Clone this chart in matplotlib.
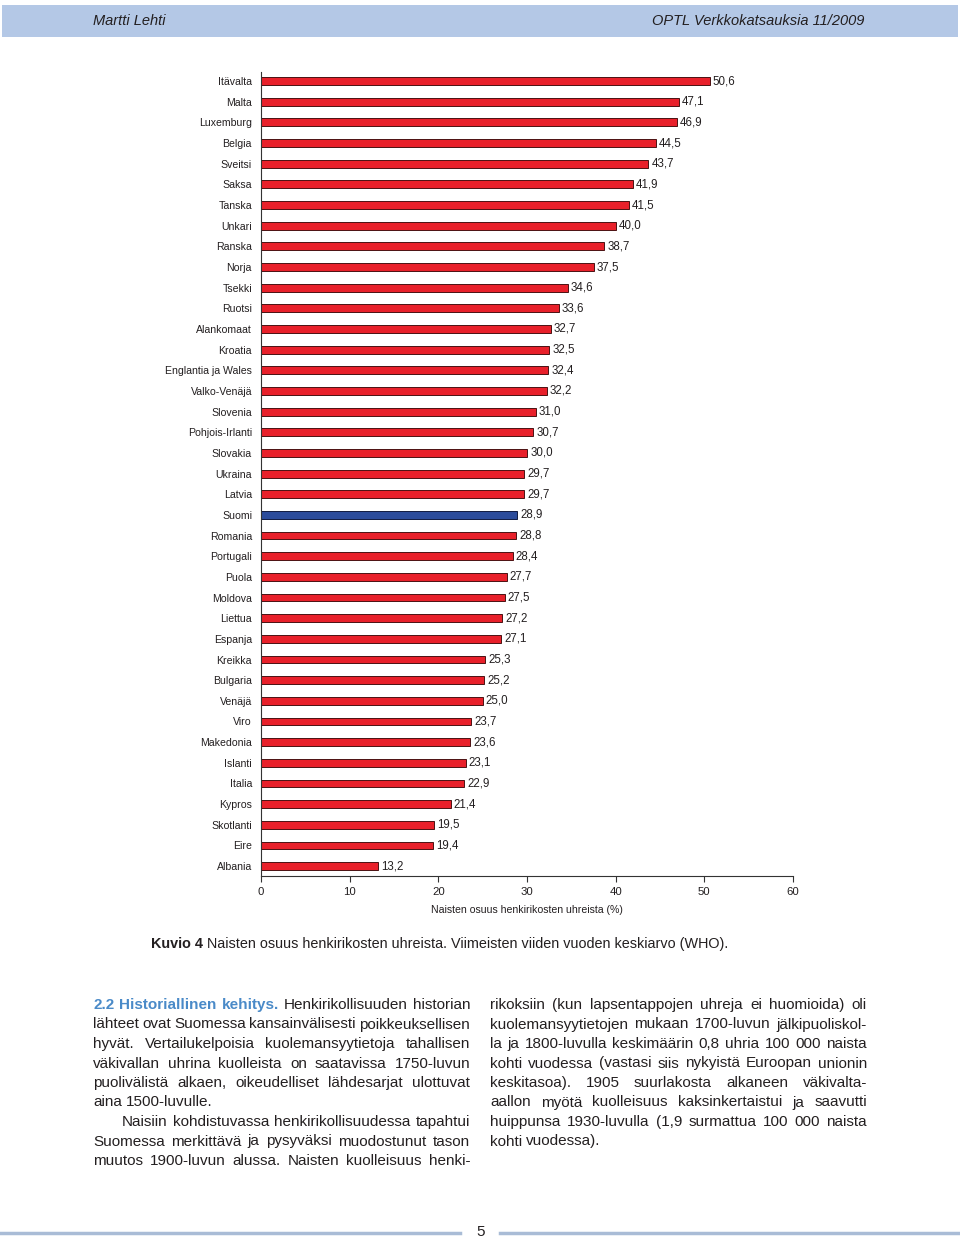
"""Naisten osuus henkirikosten uhreista - page recreation."""
import matplotlib
matplotlib.use("Agg")
import matplotlib.pyplot as plt
from matplotlib.lines import Line2D
from matplotlib.patches import Rectangle

W, H = 960, 1239

countries = ["Itävalta", "Malta", "Luxemburg", "Belgia", "Sveitsi", "Saksa",
             "Tanska", "Unkari", "Ranska", "Norja", "Tsekki", "Ruotsi",
             "Alankomaat", "Kroatia", "Englantia ja Wales", "Valko-Venäjä",
             "Slovenia", "Pohjois-Irlanti", "Slovakia", "Ukraina", "Latvia",
             "Suomi", "Romania", "Portugali", "Puola", "Moldova", "Liettua",
             "Espanja", "Kreikka", "Bulgaria", "Venäjä", "Viro", "Makedonia",
             "Islanti", "Italia", "Kypros", "Skotlanti", "Eire", "Albania"]
shares = [50.6, 47.1, 46.9, 44.5, 43.7, 41.9, 41.5, 40.0, 38.7, 37.5, 34.6,
          33.6, 32.7, 32.5, 32.4, 32.2, 31.0, 30.7, 30.0, 29.7, 29.7, 28.9,
          28.8, 28.4, 27.7, 27.5, 27.2, 27.1, 25.3, 25.2, 25.0, 23.7, 23.6,
          23.1, 22.9, 21.4, 19.5, 19.4, 13.2]
highlight = "Suomi"
xticks = [0, 10, 20, 30, 40, 50, 60]
xlabel = "Naisten osuus henkirikosten uhreista (%)"

header_left = "Martti Lehti"
header_right = "OPTL Verkkokatsauksia 11/2009"
caption_bold = "Kuvio 4"
caption_rest = "Naisten osuus henkirikosten uhreista. Viimeisten viiden vuoden keskiarvo (WHO)."
page_number = "5"

heading = "2.2 Historiallinen kehitys."
# (text, justified, indented)
left_lines = [
    ("Henkirikollisuuden historian", True, False),
    ("lähteet ovat Suomessa kansainvälisesti poikkeuksellisen", True, False),
    ("hyvät. Vertailukelpoisia kuolemansyytietoja tahallisen", True, False),
    ("väkivallan uhrina kuolleista on saatavissa 1750-luvun", True, False),
    ("puolivälistä alkaen, oikeudelliset lähdesarjat ulottuvat", True, False),
    ("aina 1500-luvulle.", False, False),
    ("Naisiin kohdistuvassa henkirikollisuudessa tapahtui", True, True),
    ("Suomessa merkittävä ja pysyväksi muodostunut tason", True, False),
    ("muutos 1900-luvun alussa. Naisten kuolleisuus henki-", True, False),
]
right_lines = [
    ("rikoksiin (kun lapsentappojen uhreja ei huomioida) oli", True, False),
    ("kuolemansyytietojen mukaan 1700-luvun jälkipuoliskol-", True, False),
    ("la ja 1800-luvulla keskimäärin 0,8 uhria 100 000 naista", True, False),
    ("kohti vuodessa (vastasi siis nykyistä Euroopan unionin", True, False),
    ("keskitasoa). 1905 suurlakosta alkaneen väkivalta-", True, False),
    ("aallon myötä kuolleisuus kaksinkertaistui ja saavutti", True, False),
    ("huippunsa 1930-luvulla (1,9 surmattua 100 000 naista", True, False),
    ("kohti vuodessa).", False, False),
]

plt.rcParams['font.family'] = ['Liberation Sans', 'DejaVu Sans']
TEXT = "#231f20"


def fx(px):
    return px / W


def fy(py):
    return 1 - py / H


fig = plt.figure(figsize=(W / 100, H / 100), dpi=100)
renderer = fig.canvas.get_renderer()

# header band
fig.patches.append(Rectangle((fx(2), fy(37)), fx(956), 32 / H,
                             transform=fig.transFigure, facecolor="#b4c8e6",
                             edgecolor="none"))
fig.text(fx(93), fy(21), header_left, fontsize=10.5, style="italic",
         color=TEXT, va="center", ha="left")
fig.text(fx(864), fy(21), header_right, fontsize=10.5, style="italic",
         color=TEXT, va="center", ha="right")

# bar chart
ax = fig.add_axes([fx(261), fy(876), fx(793) - fx(261), fy(72) - fy(876)])
pos = list(range(len(countries)))
colors = ["#2b4b9b" if c == highlight else "#e8202a" for c in countries]
edges = ["#101a40" if c == highlight else "#4a1212" for c in countries]
ax.barh(pos, shares, height=0.38, color=colors, edgecolor=edges, linewidth=0.7)
for p, v in zip(pos, shares):
    ax.text(v + 0.35, p, f"{v:.1f}".replace(".", ","), va="center",
            ha="left", fontsize=8.3, color=TEXT)
ax.set_xlim(0, 60)
ax.set_ylim(38.48, -0.44)
ax.set_yticks(pos)
ax.set_yticklabels(countries, fontsize=7.6, color=TEXT)
ax.set_xticks(xticks)
ax.set_xticklabels([str(t) for t in xticks], fontsize=8.2, color=TEXT)
ax.tick_params(axis="y", length=0, pad=6.5)
ax.tick_params(axis="x", length=4, width=0.8, pad=4, color="#333333")
ax.set_xlabel(xlabel, fontsize=7.6, color=TEXT, labelpad=5.5)
for s in ("top", "right"):
    ax.spines[s].set_visible(False)
for s in ("left", "bottom"):
    ax.spines[s].set_linewidth(0.8)
    ax.spines[s].set_color("#333333")

# caption
t = fig.text(fx(151), fy(948), caption_bold, fontsize=10.4, weight="bold",
             color=TEXT, va="baseline")
wb = t.get_window_extent(renderer).width
fig.text(fx(151 + wb + 4), fy(948), caption_rest, fontsize=10.4,
         color=TEXT, va="baseline")

BODY = 11


def word_width(word, **kw):
    tt = fig.text(0, 0, word, fontsize=BODY, **kw)
    w = tt.get_window_extent(renderer).width
    tt.remove()
    return w


space = word_width("x x") - word_width("xx")


def put_line(tokens, x0, x1, y, justify):
    widths = [word_width(w, **kw) for w, kw in tokens]
    if justify and len(tokens) > 1:
        gap = (x1 - x0 - sum(widths)) / (len(tokens) - 1)
    else:
        gap = space
    x = x0
    for (w, kw), wd in zip(tokens, widths):
        fig.text(fx(x), fy(y), w, fontsize=BODY, va="baseline", ha="left",
                 color=kw.get("color", TEXT),
                 weight=kw.get("weight", "normal"))
        x += wd + gap


def put_column(lines, x0, x1, first_heading=False):
    for k, (line, just, indent) in enumerate(lines):
        tokens = [(w, {}) for w in line.split(" ")]
        if k == 0 and first_heading:
            tokens = [(w, {"weight": "bold", "color": "#4a8ac8"})
                      for w in heading.split(" ")] + tokens
        put_line(tokens, x0 + (29 if indent else 0), x1, 1009 + 19.5 * k, just)


put_column(left_lines, 93, 470, first_heading=True)
put_column(right_lines, 490, 867)

# footer
fig.lines.append(Line2D([fx(0), fx(460)], [fy(1233), fy(1233)],
                        transform=fig.transFigure, color="#a9bcd6", lw=2.5))
fig.lines.append(Line2D([fx(500), fx(960)], [fy(1233), fy(1233)],
                        transform=fig.transFigure, color="#a9bcd6", lw=2.5))
fig.text(fx(481), fy(1232), page_number, fontsize=11, color=TEXT,
         ha="center", va="center")

fig.savefig("out.png", dpi=100, facecolor="white")
